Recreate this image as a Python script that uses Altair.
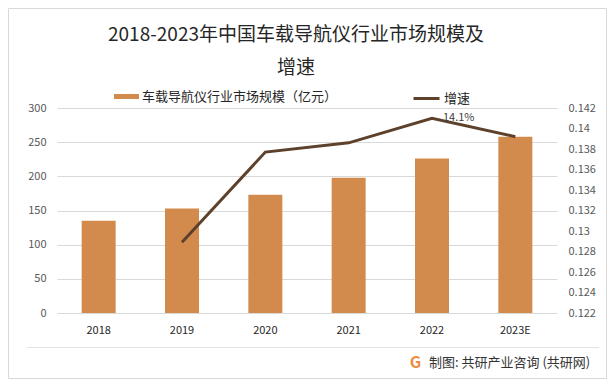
import altair as alt
import pandas as pd

# ---- data ----
years = ["2018", "2019", "2020", "2021", "2022", "2023E"]
market = [135, 153, 173, 198, 226, 258]          # 亿元
growth = [None, 0.1289, 0.1377, 0.1386, 0.141, 0.1392]
left_ticks = [0, 50, 100, 150, 200, 250, 300]
right_ticks = [0.122, 0.124, 0.126, 0.128, 0.13, 0.132, 0.134, 0.136, 0.138, 0.14, 0.142]
label_year = "2022"

BAR_NAME = "车载导航仪行业市场规模（亿元）"
LINE_NAME = "增速"
TITLE_1 = "2018-2023年中国车载导航仪行业市场规模及"
TITLE_2 = "增速"
SOURCE = "制图: 共研产业咨询 (共研网)"

FONT = "Noto Sans CJK SC"
BAR_COLOR = "#D38B4D"
LINE_COLOR = "#5E412B"
GRID = "#D9D9D9"

df = pd.DataFrame({"year": years, "market": market, "growth": growth})
deco = pd.DataFrame({"k": [0]})

x_enc = alt.X(
    "year:N", sort=years,
    scale=alt.Scale(paddingInner=0.59),
    axis=alt.Axis(title=None, labelAngle=0, domain=False, ticks=False,
                  labelPadding=11, labelFontSize=11, labelColor="#262626",
                  labelFont=FONT),
)

right_axis = alt.Axis(orient="right", values=right_ticks, format="~g", title=None,
                      domain=False, ticks=False, grid=False, labelPadding=11,
                      labelOverlap=False, labelFontSize=11, labelColor="#595959",
                      labelFont=FONT)

bars = alt.Chart(df).transform_calculate(series=f"'{BAR_NAME}'").mark_bar(size=34).encode(
    x=x_enc,
    y=alt.Y("market:Q", scale=alt.Scale(domain=[0, 300], nice=False),
            axis=alt.Axis(values=left_ticks, title=None, domain=False, ticks=False,
                          grid=True, gridColor=GRID, labelPadding=11,
                          labelFontSize=11, labelColor="#595959", labelFont=FONT)),
    fill=alt.Fill("series:N", scale=alt.Scale(domain=[BAR_NAME], range=[BAR_COLOR]),
                  legend=alt.Legend(title=None, orient="none", legendX=57, legendY=-24,
                                    symbolType="M-1,-0.2H1V0.2H-1Z", symbolSize=625,
                                    symbolStrokeWidth=0, labelFontSize=13, labelFont=FONT,
                                    labelColor="#262626", labelOffset=3, labelLimit=0)),
)

line_base = alt.Chart(df).transform_filter("datum.growth != null")

line = line_base.transform_calculate(series=f"'{LINE_NAME}'").mark_line(strokeWidth=3).encode(
    x=alt.X("year:N", sort=years),
    y=alt.Y("growth:Q", scale=alt.Scale(domain=[0.122, 0.142], nice=False, zero=False),
            axis=right_axis),
    stroke=alt.Stroke("series:N", scale=alt.Scale(domain=[LINE_NAME], range=[LINE_COLOR]),
                      legend=alt.Legend(title=None, orient="none", legendX=355, legendY=-24,
                                        symbolType="stroke", symbolSize=676,
                                        symbolStrokeWidth=3, labelFontSize=13, labelFont=FONT,
                                        labelColor="#262626", labelOffset=3, labelLimit=0)),
)

label = line_base.transform_filter(f"datum.year == '{label_year}'").mark_text(
    align="left", baseline="middle", dx=11, dy=0, fontSize=11, font=FONT, color="#404040"
).encode(
    x=alt.X("year:N", sort=years),
    y=alt.Y("growth:Q", axis=right_axis),
    text=alt.Text("growth:Q", format=".1%"),
)

border = alt.Chart(deco).mark_rect(fillOpacity=0, stroke=GRID, strokeWidth=1).encode(
    x=alt.value(-48.5), x2=alt.value(549.5), y=alt.value(-99.5), y2=alt.value(270.5)
)
separator = alt.Chart(deco).mark_rule(color="#E3E3E3", strokeWidth=1).encode(
    x=alt.value(-30), x2=alt.value(542), y=alt.value(239.5)
)
icon = alt.Chart(deco).mark_text(text="G", fontSize=16, fontWeight="bold", font=FONT,
                                 color="#F08A3C", align="center", baseline="middle").encode(
    x=alt.value(358.5), y=alt.value(255)
)
source = alt.Chart(deco).mark_text(text=SOURCE, fontSize=13, font=FONT, color="#333333",
                                   align="left", baseline="middle").encode(
    x=alt.value(372), y=alt.value(255)
)
title1 = alt.Chart(deco).mark_text(text=TITLE_1, fontSize=19, font=FONT, color="#262626",
                                   align="center", baseline="middle").encode(
    x=alt.value(239), y=alt.value(-73)
)
title2 = alt.Chart(deco).mark_text(text=TITLE_2, fontSize=19, font=FONT, color="#262626",
                                   align="center", baseline="middle").encode(
    x=alt.value(239), y=alt.value(-40)
)

chart = alt.layer(
    border, separator, icon, source, title1, title2, bars, alt.layer(line, label)
).resolve_scale(y="independent").properties(
    width=500, height=205,
    autosize=alt.AutoSizeParams(type="none"),
    padding={"left": 49, "top": 100, "right": 50, "bottom": 66},
).configure_view(stroke=None).configure_axis(labelOverlap=False)

chart.save("out.html", embed_options={"renderer": "svg", "actions": False})
